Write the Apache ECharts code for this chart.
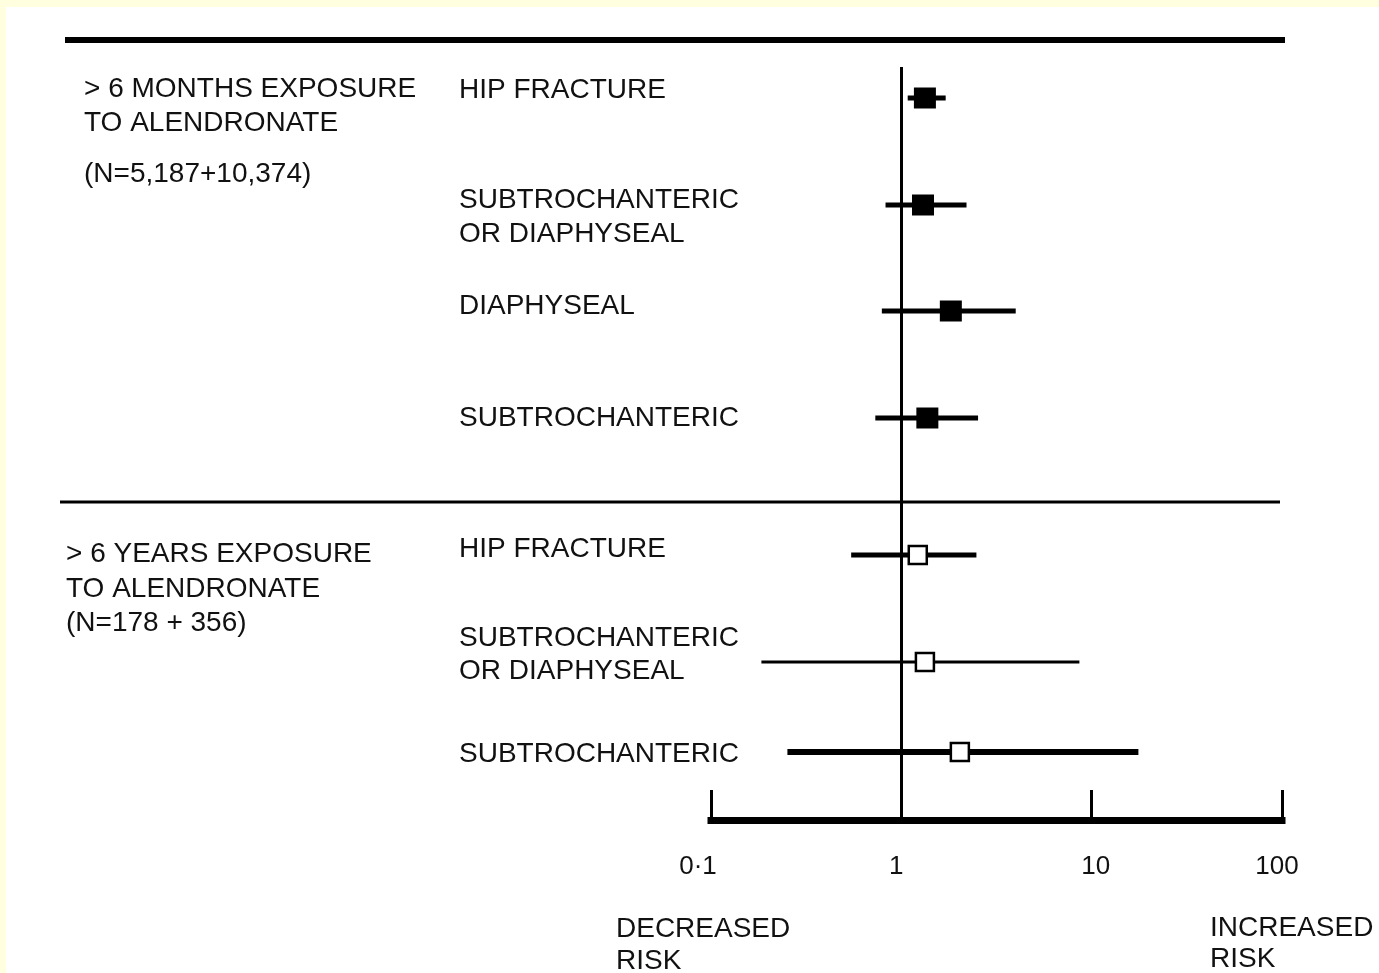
<!DOCTYPE html>
<html>
<head>
<meta charset="utf-8">
<script src="https://cdn.jsdelivr.net/npm/echarts@6/dist/echarts.min.js"></script>
<style>
html,body{margin:0;padding:0;background:#FFFFE0;}
#chart{width:1379px;height:973px;}
</style>
</head>
<body>
<div id="chart"></div>
<script>
// ---- data (odds ratios with 95% CI) ----
const monthsLabels = ['HIP FRACTURE', 'SUBTROCHANTERIC OR DIAPHYSEAL', 'DIAPHYSEAL', 'SUBTROCHANTERIC'];
const monthsEst  = [1.33, 1.30, 1.82, 1.37];
const monthsLow  = [1.08, 0.826, 0.79, 0.73];
const monthsHigh = [1.71, 2.20, 3.99, 2.53];
const monthsRow  = [0.31, 1.38, 2.44, 3.51];

const yearsLabels = ['HIP FRACTURE', 'SUBTROCHANTERIC OR DIAPHYSEAL', 'SUBTROCHANTERIC'];
const yearsEst  = [1.22, 1.33, 2.03];
const yearsLow  = [0.545, 0.184, 0.252];
const yearsHigh = [2.48, 8.62, 17.6];
const yearsRow  = [4.88, 5.95, 6.85];

const xTicks = [0.1, 1, 10, 100];
const xTickLabels = ['0·1', '1', '10', '100'];

const monthsGroupText = ['> 6 MONTHS EXPOSURE', 'TO ALENDRONATE', '(N=5,187+10,374)'];
const yearsGroupText  = ['> 6 YEARS EXPOSURE', 'TO ALENDRONATE', '(N=178 + 356)'];
const rowText = ['HIP FRACTURE', 'SUBTROCHANTERIC', 'OR DIAPHYSEAL', 'DIAPHYSEAL', 'SUBTROCHANTERIC',
                 'HIP FRACTURE', 'SUBTROCHANTERIC', 'OR DIAPHYSEAL', 'SUBTROCHANTERIC'];
const decreasedText = ['DECREASED', 'RISK'];
const increasedText = ['INCREASED', 'RISK'];

// ---- styles / layout (kept apart from data) ----
const monthsCIWidth = [5, 5, 5, 5];
const yearsCIWidth = [5, 3, 6];
const tickLabelPad = [[0, 26, 0, 0], [0, 10, 0, 0], [0, 0, 0, 8], [0, 10, 0, 0]];
const FONT = '28px "Liberation Sans", Arial, sans-serif';
const TXT = '#111';

const monthsData = monthsEst.map((v, i) => [v, monthsLow[i], monthsHigh[i], monthsRow[i]]);
const yearsData = yearsEst.map((v, i) => [v, yearsLow[i], yearsHigh[i], yearsRow[i]]);

function makeRender(filled, widths) {
  return function (params, api) {
    const est = api.coord([api.value(0), api.value(3)]);
    const lo = api.coord([api.value(1), api.value(3)]);
    const hi = api.coord([api.value(2), api.value(3)]);
    const w = widths[params.dataIndex];
    const children = [{
      type: 'line',
      shape: { x1: lo[0], y1: lo[1], x2: hi[0], y2: hi[1] },
      style: { stroke: '#000', lineWidth: w, lineCap: 'butt' }
    }];
    if (filled) {
      children.push({
        type: 'rect',
        shape: { x: est[0] - 11, y: est[1] - 10.5, width: 22, height: 21 },
        style: { fill: '#000' }
      });
    } else {
      children.push({
        type: 'rect',
        shape: { x: est[0] - 9, y: est[1] - 9, width: 18, height: 18 },
        style: { fill: '#fff', stroke: '#000', lineWidth: 2.5 }
      });
    }
    return { type: 'group', children: children };
  };
}

const textLayout = [
  { texts: monthsGroupText, x: 84, ys: [89, 123, 174] },
  { texts: yearsGroupText, x: 66, ys: [554, 589, 623] },
  { texts: rowText, x: 459, ys: [90, 200, 234, 306, 418, 549, 638, 671, 754] },
  { texts: decreasedText, x: 616, ys: [929, 961] },
  { texts: increasedText, x: 1210, ys: [928, 959] }
];

const graphics = [
  { type: 'rect', shape: { x: 6, y: 7, width: 1373, height: 966 }, style: { fill: '#fff' }, z: -10, silent: true },
  { type: 'line', shape: { x1: 65, y1: 40, x2: 1285, y2: 40 }, style: { stroke: '#000', lineWidth: 6 } },
  { type: 'line', shape: { x1: 60, y1: 502, x2: 1280, y2: 502 }, style: { stroke: '#000', lineWidth: 3 } }
];
textLayout.forEach(block => {
  block.texts.forEach((t, i) => {
    graphics.push({
      type: 'text',
      x: block.x, y: block.ys[i],
      style: { text: t, font: FONT, fill: TXT, align: 'left', verticalAlign: 'middle' }
    });
  });
});

function nearestTick(v) {
  let best = 0;
  xTicks.forEach((t, i) => {
    if (Math.abs(Math.log10(t) - Math.log10(v)) < Math.abs(Math.log10(xTicks[best]) - Math.log10(v))) best = i;
  });
  return best;
}
const rich = {};
tickLabelPad.forEach((p, i) => {
  rich['t' + i] = { fontSize: 26, fontFamily: '"Liberation Sans", Arial, sans-serif', color: TXT, padding: p };
});

const chart = echarts.init(document.getElementById('chart'), null, { renderer: 'canvas' });
chart.setOption({
  backgroundColor: '#FFFFE0',
  animation: false,
  graphic: graphics,
  grid: { left: 711, right: 1379 - 1282, top: 67, bottom: 973 - 820, containLabel: false },
  xAxis: {
    type: 'log',
    logBase: 10,
    position: 'bottom',
    min: xTicks[0],
    max: xTicks[xTicks.length - 1],
    splitLine: { show: false },
    axisLine: { show: true, onZero: false, lineStyle: { color: '#000', width: 7, cap: 'square' } },
    axisTick: { show: true, inside: true, length: 30, lineStyle: { color: '#000', width: 3 } },
    minorTick: { show: false },
    axisLabel: {
      margin: 34,
      color: TXT,
      fontSize: 26,
      fontFamily: '"Liberation Sans", Arial, sans-serif',
      rich: rich,
      formatter: function (v) {
        const i = nearestTick(v);
        return '{t' + i + '|' + xTickLabels[i] + '}';
      }
    }
  },
  yAxis: {
    type: 'value',
    inverse: true,
    min: 0,
    max: 7.53,
    show: false
  },
  series: [
    {
      type: 'custom',
      name: '> 6 months',
      renderItem: makeRender(true, monthsCIWidth),
      encode: { x: [0, 1, 2], y: 3 },
      data: monthsData,
      z: 3,
      markLine: {
        silent: true,
        symbol: ['none', 'none'],
        label: { show: false },
        lineStyle: { color: '#000', width: 3, type: 'solid' },
        data: [{ xAxis: 1 }],
        z: 2
      }
    },
    {
      type: 'custom',
      name: '> 6 years',
      renderItem: makeRender(false, yearsCIWidth),
      encode: { x: [0, 1, 2], y: 3 },
      data: yearsData,
      z: 3
    }
  ]
});
</script>
</body>
</html>
